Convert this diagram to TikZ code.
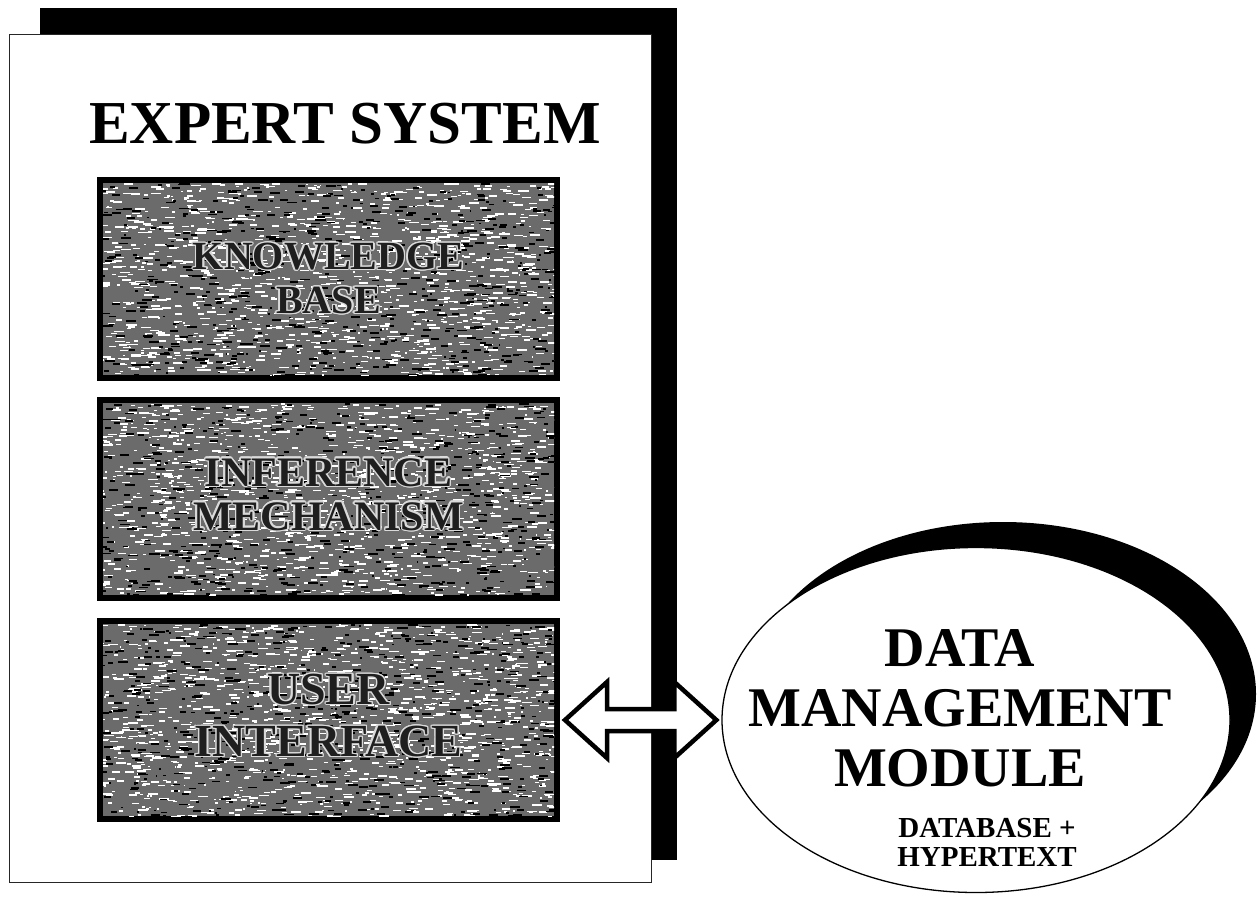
\documentclass[tikz,border=0pt]{standalone}
\usepackage{fontspec}
\setmainfont{Liberation Serif}
\usepackage[copies]{contour}
\usetikzlibrary{calc,shapes.geometric}
\contourlength{1.3pt}
\definecolor{boxgray}{gray}{0.42}
\definecolor{boxtext}{gray}{0.12}
\definecolor{boxhalo}{gray}{0.85}

% grainy fill: short light and dark dashes scattered over a box
% #1 left, #2 top, #3 width, #4 height
\newcommand\speckle[4]{%
  \begin{scope}
  \clip (#1,#2) rectangle ++(#3,#4);
  \foreach \k in {1,...,1300}{%
    \pgfmathsetmacro\px{#1-5+(#3+5)*rnd}%
    \pgfmathsetmacro\py{#2+#4*rnd}%
    \pgfmathsetmacro\pl{1.5+9*rnd}%
    \fill[white] (\px,\py) rectangle ++(\pl,1.5);
  }%
  \foreach \k in {1,...,600}{%
    \pgfmathsetmacro\px{#1-5+(#3+5)*rnd}%
    \pgfmathsetmacro\py{#2+#4*rnd}%
    \pgfmathsetmacro\pl{1.5+9*rnd}%
    \fill[black] (\px,\py) rectangle ++(\pl,1.8);
  }%
  \end{scope}}

\newcommand\halo[1]{\contour{boxhalo}{#1}}

\tikzset{
  esbox/.style={draw=black, line width=6pt, fill=boxgray, inner sep=0pt,
    minimum width=457pt, minimum height=198pt},
  boxlabel/.style={text=boxtext, align=center, inner sep=0pt,
    font=\fontsize{40}{44}\selectfont\bfseries},
  arrowshape/.style={draw=black, fill=white, line width=4.5pt, line join=miter},
}

\begin{document}
\begin{tikzpicture}[x=1pt, y=-1pt]
\useasboundingbox (0,0) rectangle (1260,897);
\fill[white] (0,0) rectangle (1260,897);

% page with its dark offset shadow
\fill[black] (40,8) rectangle (677,860);
\node[draw=black!85, line width=1pt, fill=white, inner sep=0pt,
      minimum width=642pt, minimum height=848pt, anchor=north west] (page) at (9,34) {};

\node[font=\fontsize{61}{66}\selectfont\bfseries] (title) at (345,124) {EXPERT SYSTEM};

% the three parts of the expert system
\pgfmathsetseed{4711}
\node[esbox] (kb) at (328.5,279) {};
\speckle{103}{183}{451}{192}
\node[boxlabel] (kbtext) at (kb.center) {\halo{KNOWLEDGE}\\\halo{BASE}};

\node[esbox] (im) at (328.5,499) {};
\speckle{103}{403}{451}{192}
\node[boxlabel, font=\fontsize{42}{44}\selectfont\bfseries] (imtext) at ([yshift=4pt]im.center) {\halo{INFERENCE}\\\halo{MECHANISM}};

\node[esbox] (ui) at (328.5,720) {};
\speckle{103}{624}{451}{192}
\node[boxlabel, font=\fontsize{46}{52}\selectfont\bfseries] (uitext) at ([yshift=4pt]ui.center) {\halo{USER}\\\halo{INTERFACE}};

% data management module with its crescent shadow
\node[ellipse, fill=black, inner sep=0pt, minimum width=506pt, minimum height=344pt] (dmmshadow) at (1003,694) {};
\node[ellipse, draw=black, line width=1.3pt, fill=white, inner sep=0pt,
      minimum width=508pt, minimum height=345pt] (dmm) at (976,720) {};
\node[font=\fontsize{56}{60}\selectfont\bfseries, align=center] (dmmtitle) at (960,708)
  {DATA\\MANAGEMENT\\MODULE};
\node[font=\fontsize{29}{29}\selectfont\bfseries, align=center] (dmmsub) at (987,842)
  {DATABASE +\\HYPERTEXT};

% two-way block arrow between user interface and module
\draw[arrowshape] let \p1=(ui.east), \p2=(dmm.west) in
  (\x1+5pt,\y1) -- (\x1+47pt,\y1+38pt) -- (\x1+47pt,\y1+11pt)
  -- (\x2-47pt,\y1+11pt) -- (\x2-47pt,\y1+38pt) -- (\x2-5pt,\y1)
  -- (\x2-47pt,\y1-38pt) -- (\x2-47pt,\y1-11pt)
  -- (\x1+47pt,\y1-11pt) -- (\x1+47pt,\y1-38pt) -- cycle;
\end{tikzpicture}
\end{document}
